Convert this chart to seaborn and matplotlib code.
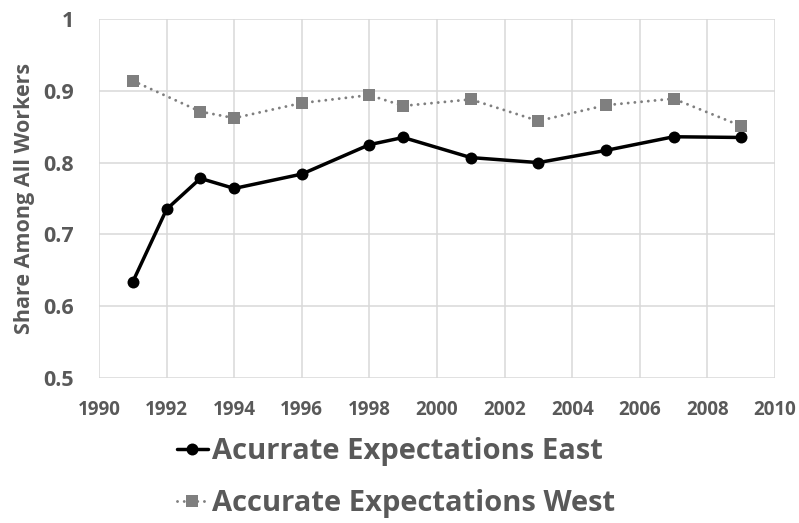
import numpy as np
import pandas as pd
import matplotlib
matplotlib.use("Agg")
import matplotlib.pyplot as plt
import seaborn as sns

sns.set_style('whitegrid')
plt.rcParams['font.family'] = ['Open Sans', 'DejaVu Sans']
plt.rcParams['font.weight'] = 'bold'

# data
years_east = [1991, 1992, 1993, 1994, 1996, 1998, 1999, 2001, 2003, 2005, 2007, 2009]
share_east = [0.634, 0.735, 0.778, 0.764, 0.784, 0.825, 0.835, 0.807, 0.800, 0.817, 0.836, 0.835]

years_west = [1991, 1993, 1994, 1996, 1998, 1999, 2001, 2003, 2005, 2007, 2009]
share_west = [0.914, 0.871, 0.862, 0.883, 0.894, 0.879, 0.888, 0.858, 0.880, 0.889, 0.851]

label_east = 'Acurrate Expectations East'
label_west = 'Accurate Expectations West'

x_ticks = list(range(1990, 2011, 2))
y_ticks = [0.5, 0.6, 0.7, 0.8, 0.9, 1.0]
y_ticklabels = ['0.5', '0.6', '0.7', '0.8', '0.9', '1']

text_col = '#595959'
grid_col = '#d9d9d9'

fig = plt.figure(figsize=(7.99, 5.23), dpi=100)
ax = fig.add_axes([99 / 799, 1 - 378 / 523, 676 / 799, 359 / 523])

sns.lineplot(x=years_east, y=share_east, ax=ax, color='black', linewidth=2.5,
             marker='o', markersize=8.6, markeredgewidth=0, label=label_east)
sns.lineplot(x=years_west, y=share_west, ax=ax, color='#7f7f7f', linewidth=2.1,
             linestyle=(0, (0.01, 2.3)), dash_capstyle='round', marker='s', markersize=9,
             markeredgewidth=0, label=label_west)

ax.set_xlim(1990, 2010)
ax.set_ylim(0.5, 1.0)
ax.set_xticks(x_ticks)
ax.set_yticks(y_ticks)
ax.set_yticklabels(y_ticklabels)
ax.tick_params(axis='x', labelsize=13.5, colors=text_col, length=0, pad=16)
ax.tick_params(axis='y', labelsize=15.5, colors=text_col, length=0, pad=18)
for t in ax.get_xticklabels() + ax.get_yticklabels():
    t.set_fontweight('bold')
ax.grid(True, color=grid_col, linewidth=1.1)
for s in ax.spines.values():
    s.set_visible(False)
ax.set_ylabel('Share Among All Workers', fontsize=15.5, fontweight='bold', color=text_col, labelpad=6)
ax.set_xlabel('')

ax.get_legend().remove()
leg = fig.legend(loc='center left', bbox_to_anchor=(177 / 799, 1 - 477.5 / 523), ncol=1,
                 frameon=False, borderpad=0, borderaxespad=0, handlelength=1.05,
                 handletextpad=0.15, labelspacing=0.78, prop={'weight': 'bold', 'size': 21})
for t in leg.get_texts():
    t.set_color(text_col)

fig.savefig('out.png', dpi=100)
